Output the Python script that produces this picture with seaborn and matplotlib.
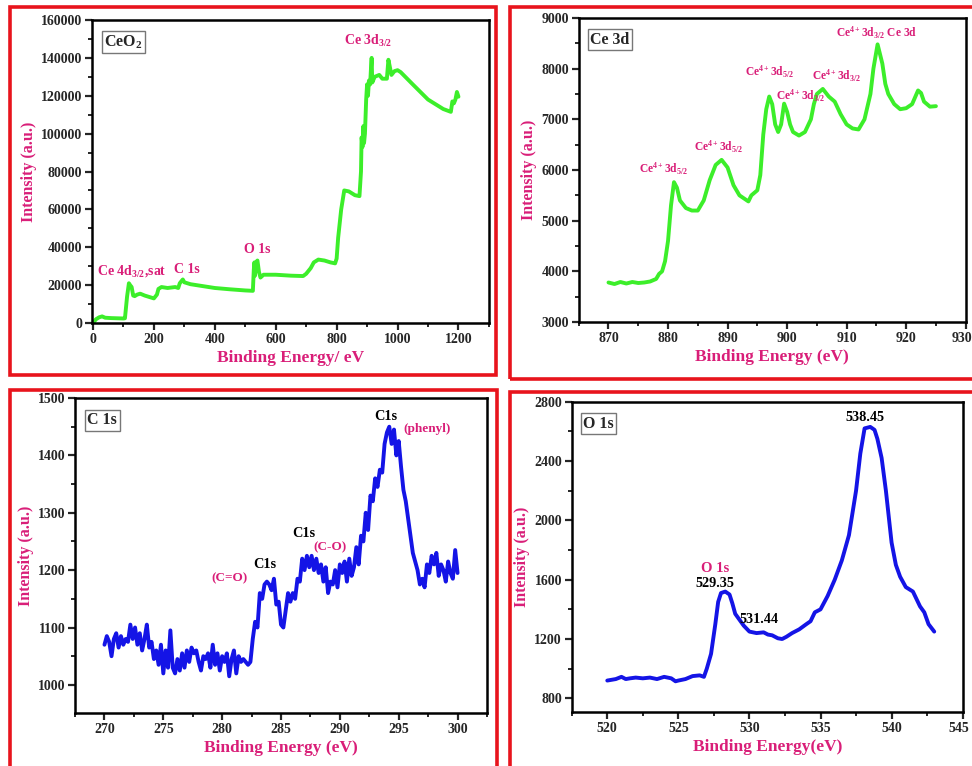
import matplotlib
matplotlib.use("Agg")
import matplotlib.pyplot as plt
from matplotlib.patches import Rectangle
from matplotlib.ticker import AutoMinorLocator
from matplotlib.transforms import ScaledTranslation
import seaborn as sns
import numpy as np

# ---- survey spectrum (CeO2) ----
survey_x = [0, 10, 20, 30, 40, 60, 80, 100, 105, 112, 118, 122, 127, 132, 137, 145, 155, 170, 190,
            200, 210, 215, 225, 245, 270, 280, 285, 290, 295, 300, 320, 360, 400, 450, 500, 525,
            528, 530, 532, 535, 540, 545, 550, 560, 600, 650, 690, 700, 715, 725, 740, 760, 780,
            795, 800, 805, 815, 825, 840, 860, 875, 880, 882, 885, 888, 890, 893, 897, 900, 903,
            906, 910, 913, 915, 917, 925, 940, 950, 965, 970, 975, 980, 990, 1000, 1010, 1050,
            1100, 1150, 1175, 1180, 1185, 1190, 1195, 1200]
survey_y = [0, 2000, 3000, 3500, 2800, 2600, 2500, 2400, 2500, 14000, 21000, 20000, 19000, 14500,
            14200, 15000, 15500, 14500, 13500, 13000, 15000, 18000, 19000, 18500, 19000, 18500,
            21000, 22000, 23000, 21500, 20500, 19500, 18500, 17800, 17200, 17000, 28000, 32000,
            25000, 32000, 33000, 27000, 24000, 25500, 25500, 25000, 24800, 26000, 29000, 32000,
            33500, 33000, 32000, 31500, 34000, 45000, 60000, 70000, 69500, 67500, 67000, 80000,
            98000, 93000, 104000, 95000, 100000, 118000, 126000, 120000, 128000, 126000, 135000,
            140000, 127000, 130000, 131000, 129000, 129000, 139000, 135000, 131000, 133000,
            133500, 132500, 126000, 118000, 113000, 111500, 117000, 116000, 118000, 122000, 119500]

# ---- Ce 3d ----
ce_x = [870, 871, 872, 873, 874, 875, 876, 877, 878, 878.5, 879, 879.5, 880, 880.5, 881, 881.5,
        882, 883, 884, 885, 886, 887, 887.5, 888, 889, 890, 891, 892, 893, 893.5, 894, 895,
        895.5, 896, 896.5, 897, 897.5, 898, 898.5, 899, 899.5, 900, 900.5, 901, 902, 903, 904,
        904.5, 905, 906, 907, 908, 909, 910, 911, 912, 913, 914, 914.5, 915.2, 916, 916.5, 917,
        918, 919, 920, 921, 922, 922.5, 923, 924, 925]
ce_y = [3780, 3750, 3790, 3760, 3790, 3770, 3780, 3800, 3850, 3950, 4000, 4200, 4600, 5300, 5760,
        5650, 5400, 5250, 5200, 5200, 5400, 5800, 5950, 6100, 6200, 6050, 5700, 5500, 5420, 5380,
        5500, 5600, 5900, 6700, 7200, 7450, 7300, 6900, 6750, 6900, 7310, 7150, 6900, 6750, 6680,
        6750, 7000, 7300, 7500, 7600, 7450, 7350, 7100, 6900, 6820, 6800, 7000, 7500, 8000, 8480,
        8100, 7700, 7500, 7300, 7200, 7220, 7300, 7570, 7520, 7350, 7250, 7260]

# ---- C 1s ----
c_x = [270.0, 270.2, 270.4, 270.6, 270.8, 271.0, 271.2, 271.4, 271.6, 271.8, 272.0, 272.2, 272.4,
       272.6, 272.8, 273.0, 273.2, 273.4, 273.6, 273.8, 274.0, 274.2, 274.4, 274.6, 274.8, 275.0,
       275.2, 275.4, 275.6, 275.8, 276.0, 276.2, 276.4, 276.6, 276.8, 277.0, 277.2, 277.4, 277.6,
       277.8, 278.0, 278.2, 278.4, 278.6, 278.8, 279.0, 279.2, 279.4, 279.6, 279.8, 280.0, 280.2,
       280.4, 280.6, 280.8, 281.0, 281.2, 281.4, 281.6, 281.8, 282.0, 282.2, 282.4, 282.6, 282.8,
       283.0, 283.2, 283.4, 283.6, 283.8, 284.0, 284.2, 284.4, 284.6, 284.8, 285.0, 285.2, 285.4,
       285.6, 285.8, 286.0, 286.2, 286.4, 286.6, 286.8, 287.0, 287.2, 287.4, 287.6, 287.8, 288.0,
       288.2, 288.4, 288.6, 288.8, 289.0, 289.2, 289.4, 289.6, 289.8, 290.0, 290.2, 290.4, 290.6,
       290.8, 291.0, 291.2, 291.4, 291.6, 291.8, 292.0, 292.2, 292.4, 292.6, 292.8, 293.0, 293.2,
       293.4, 293.6, 293.8, 294.0, 294.2, 294.4, 294.6, 294.8, 295.0, 295.2, 295.4, 295.6, 295.8,
       296.0, 296.2, 296.4, 296.6, 296.8, 297.0, 297.2, 297.4, 297.6, 297.8, 298.0, 298.2, 298.4,
       298.6, 298.8, 299.0, 299.2, 299.4, 299.6, 299.8, 300.0]
c_y = [1070, 1085, 1075, 1050, 1080, 1090, 1065, 1085, 1070, 1080, 1075, 1105, 1080, 1100, 1070,
       1090, 1060, 1080, 1105, 1065, 1075, 1045, 1060, 1035, 1070, 1020, 1060, 1030, 1095, 1030,
       1020, 1045, 1025, 1055, 1030, 1060, 1040, 1065, 1055, 1060, 1040, 1025, 1050, 1045, 1055,
       1030, 1070, 1035, 1055, 1025, 1050, 1040, 1055, 1015, 1045, 1060, 1020, 1050, 1040, 1045,
       1040, 1035, 1040, 1080, 1110, 1100, 1160, 1150, 1175, 1180, 1175, 1165, 1185, 1140, 1145,
       1105, 1100, 1130, 1160, 1145, 1160, 1150, 1185, 1180, 1220, 1200, 1225, 1205, 1225, 1200,
       1220, 1195, 1210, 1180, 1205, 1160, 1180, 1175, 1200, 1170, 1210, 1195, 1215, 1180, 1220,
       1190, 1205, 1240, 1210, 1260, 1250, 1300, 1270, 1330, 1320, 1360, 1345, 1375, 1370, 1420,
       1440, 1450, 1420, 1445, 1400, 1425, 1380, 1340, 1320, 1290, 1260, 1230, 1215, 1200, 1175,
       1185, 1170, 1210, 1195, 1225, 1210, 1230, 1190, 1210, 1200, 1180, 1215, 1195, 1185, 1235,
       1195]

# ---- O 1s ----
o_x = [520.0, 520.3, 520.6, 521.0, 521.3, 521.6, 522.0, 522.5, 523.0, 523.5, 524.0, 524.5, 524.8,
       525.0, 525.5, 526.0, 526.5, 526.8, 527.0, 527.3, 527.6, 527.8, 528.0, 528.3, 528.6, 528.8,
       529.0, 529.3, 529.6, 530.0, 530.5, 531.0, 531.3, 531.6, 532.0, 532.3, 532.6, 533.0, 533.5,
       534.0, 534.3, 534.6, 535.0, 535.5, 536.0, 536.5, 537.0, 537.5, 537.8, 538.1, 538.5, 538.8,
       539.0, 539.3, 539.6, 540.0, 540.3, 540.6, 541.0, 541.5, 542.0, 542.3, 542.6, 543.0]
o_y = [920, 925, 930, 945, 930, 935, 940, 935, 940, 930, 945, 935, 915, 920, 930, 950, 955, 945,
       1000, 1100, 1300, 1450, 1510, 1520, 1500, 1440, 1370, 1330, 1290, 1250, 1240, 1245, 1230,
       1225, 1205, 1200, 1215, 1240, 1265, 1300, 1320, 1380, 1400, 1490, 1600, 1730, 1900, 2200,
       2450, 2620, 2630, 2610, 2550, 2420, 2200, 1850, 1700, 1620, 1550, 1520, 1420, 1380, 1300,
       1250]

PINK = "#d91e78"
GREEN = "#3cee2a"
BLUE = "#1414e6"

sns.set_style("ticks")
plt.rcParams['font.family'] = ['Liberation Serif', 'DejaVu Serif']
plt.rcParams['font.weight'] = 'bold'
plt.rcParams['mathtext.fontset'] = 'custom'
plt.rcParams['mathtext.rm'] = 'Liberation Serif:bold'
plt.rcParams['mathtext.it'] = 'Liberation Serif:bold'
plt.rcParams['mathtext.bf'] = 'Liberation Serif:bold'
plt.rcParams['mathtext.default'] = 'rm'

fig = plt.figure(figsize=(9.72, 7.66), dpi=100)

# red frames around panels
frames = [(0.0103, 0.5104, 0.5000, 0.4805), (0.5247, 0.5052, 0.4800, 0.4857),
          (0.0103, -0.02, 0.5010, 0.5109), (0.5247, -0.02, 0.4800, 0.5083)]
for (x0, y0, w, h) in frames:
    fig.patches.append(Rectangle((x0, y0), w, h, transform=fig.transFigure,
                                 fill=False, edgecolor="#e8141c", lw=2.6, zorder=0))

ax1 = fig.add_axes([0.0947, 0.5783, 0.4083, 0.3956])
ax2 = fig.add_axes([0.5954, 0.5796, 0.3981, 0.3969])
ax3 = fig.add_axes([0.0772, 0.0692, 0.4238, 0.4112])
ax4 = fig.add_axes([0.5882, 0.0705, 0.4022, 0.4051])

sns.lineplot(x=survey_x, y=survey_y, ax=ax1, color=GREEN, lw=2.8, estimator=None, sort=False)
sns.lineplot(x=ce_x, y=ce_y, ax=ax2, color=GREEN, lw=2.8, estimator=None, sort=False)
sns.lineplot(x=c_x, y=c_y, ax=ax3, color=BLUE, lw=2.8, estimator=None, sort=False)
sns.lineplot(x=o_x, y=o_y, ax=ax4, color=BLUE, lw=2.8, estimator=None, sort=False)

ax1.set_xlim(-3, 1300); ax1.set_ylim(0, 160000)
ax1.set_xticks([0, 200, 400, 600, 800, 1000, 1200])
ax1.set_yticks(range(0, 160001, 20000))
ax2.set_xlim(865, 930); ax2.set_ylim(3000, 9000)
ax2.set_xticks(range(870, 931, 10))
ax3.set_xlim(267.5, 302.5); ax3.set_ylim(951, 1500)
ax3.set_xticks(range(270, 301, 5)); ax3.set_yticks(range(1000, 1501, 100))
ax4.set_xlim(517.5, 545); ax4.set_ylim(708, 2800)
ax4.set_xticks(range(520, 546, 5)); ax4.set_yticks(range(800, 2801, 400))

xlabels = ["Binding Energy/ eV", "Binding Energy (eV)", "Binding Energy (eV)", "Binding Energy(eV)"]
boxes = ["CeO$_2$", "Ce 3d", "C 1s", "O 1s"]
for ax, xl, bx in zip([ax1, ax2, ax3, ax4], xlabels, boxes):
    ax.xaxis.set_minor_locator(AutoMinorLocator(2))
    ax.yaxis.set_minor_locator(AutoMinorLocator(2))
    ax.tick_params(which='major', direction='out', length=5, width=1.6, labelsize=10, pad=2)
    ax.tick_params(which='minor', direction='out', length=3, width=1.4)
    for lab in ax.get_xticklabels() + ax.get_yticklabels():
        lab.set_fontweight('bold')
    for s in ax.spines.values():
        s.set_linewidth(1.8)
        s.set_color('black')
    ax.set_xlabel(xl, color=PINK, fontsize=12.5, fontweight='bold', labelpad=3)
    ax.set_ylabel("Intensity (a.u.)", color=PINK, fontsize=11.5, fontweight='bold', labelpad=3)
    ax.text(0.03, 0.955, bx, transform=ax.transAxes, fontsize=11.5, fontweight='bold',
            va='top', ha='left',
            bbox=dict(boxstyle='square,pad=0.15', fc='white', ec='#777777', lw=1))

# keep the last tick labels at the right edge inside the picture
for ax in [ax2, ax4]:
    last = ax.get_xticklabels()[-1]
    last.set_transform(last.get_transform() + ScaledTranslation(-3 / 72, 0, fig.dpi_scale_trans))

# annotations - survey
ax1.text(905, 147000, "Ce 3d$_{3/2}$", color=PINK, fontsize=10, ha='center')
ax1.text(128, 25500, "Ce 4d$_{3/2}$,sat", color=PINK, fontsize=10, ha='center')
ax1.text(308, 26500, "C 1s", color=PINK, fontsize=10, ha='center')
ax1.text(540, 37000, "O 1s", color=PINK, fontsize=10, ha='center')

# annotations - Ce 3d
ce_lab = "Ce$^{4+}$3d$_{5/2}$"
ce_lab2 = "Ce$^{4+}$3d$_{3/2}$"
ax2.text(879.3, 5950, ce_lab, color=PINK, fontsize=8.3, ha='center')
ax2.text(888.5, 6380, ce_lab, color=PINK, fontsize=8.3, ha='center')
ax2.text(897.0, 7850, ce_lab, color=PINK, fontsize=8.3, ha='center')
ax2.text(902.2, 7380, ce_lab2, color=PINK, fontsize=8.3, ha='center')
ax2.text(908.4, 7780, ce_lab2, color=PINK, fontsize=8.3, ha='center')
ax2.text(915.0, 8620, ce_lab2 + " Ce 3d", color=PINK, fontsize=8.3, ha='center')

# annotations - C 1s
ax3.text(293.9, 1462, "C1s", color='black', fontsize=10.3, ha='center')
ax3.text(297.4, 1440, "(phenyl)", color=PINK, fontsize=9.5, ha='center')
ax3.text(286.9, 1258, "C1s", color='black', fontsize=10.3, ha='center')
ax3.text(289.2, 1234, "(C-O)", color=PINK, fontsize=9.5, ha='center')
ax3.text(283.6, 1203, "C1s", color='black', fontsize=10.3, ha='center')
ax3.text(280.6, 1181, "(C=O)", color=PINK, fontsize=9.5, ha='center')

# annotations - O 1s
ax4.text(538.1, 2670, "538.45", color='black', fontsize=10.3, ha='center')
ax4.text(527.6, 1650, "O 1s", color=PINK, fontsize=10.5, ha='center')
ax4.text(527.6, 1550, "529.35", color='black', fontsize=10.3, ha='center')
ax4.text(530.7, 1310, "531.44", color='black', fontsize=10.3, ha='center')

fig.savefig("out.png", dpi=100)
